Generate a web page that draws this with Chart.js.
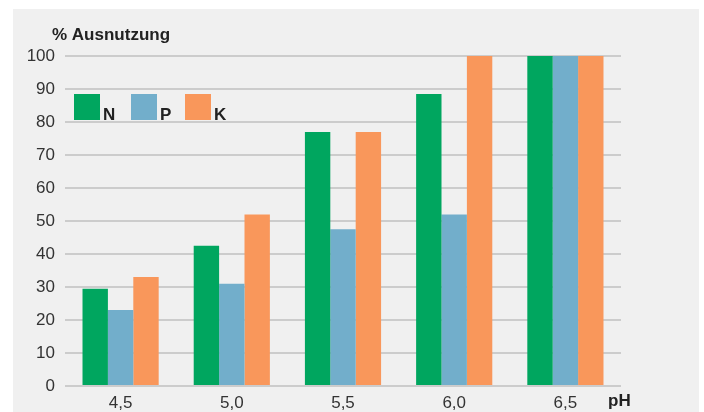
<!DOCTYPE html>
<html>
<head>
<meta charset="utf-8">
<script src="https://cdn.jsdelivr.net/npm/chart.js@4/dist/chart.umd.min.js"></script>
<style>
  html, body { margin: 0; padding: 0; background: #ffffff; overflow: hidden; }
  .panel {
    position: absolute;
    left: 13px;
    top: 9px;
    width: 686px;
    height: 403px;
    background: #f0f0f0;
  }
</style>
</head>
<body>
<div class="panel"><canvas id="myChart"></canvas></div>
<script>
const phLabels = ["4,5", "5,0", "5,5", "6,0", "6,5"]
const nValues = [29.5, 42.5, 77, 88.5, 100]
const pValues = [23, 31, 47.5, 52, 100]
const kValues = [33, 52, 77, 100, 100]
const yTicks = [0, 10, 20, 30, 40, 50, 60, 70, 80, 90, 100]

const fontFamily = "'Liberation Sans', Arial, sans-serif"

// titel, ph-label und legende von hand zeichnen
const extraText = {
  id: "extraText",
  afterDraw(chart) {
    const ctx = chart.ctx
    const area = chart.chartArea
    ctx.save()
    ctx.fillStyle = "#222222"
    ctx.font = "bold 17px " + fontFamily
    ctx.textBaseline = "alphabetic"
    ctx.textAlign = "left"
    ctx.fillText("% Ausnutzung", area.left - 13, area.top - 16)
    ctx.fillText("pH", area.right - 13, area.bottom + 20)

    // legende
    let x = area.left + 9
    const top = area.top + 38
    chart.data.datasets.forEach((ds) => {
      ctx.fillStyle = ds.backgroundColor
      ctx.fillRect(x, top, 26, 26)
      ctx.fillStyle = "#222222"
      ctx.fillText(ds.label, x + 29, top + 26)
      x += ds.label === "N" ? 57 : 54
    })
    ctx.restore()
  },
}

const ctx = document.getElementById("myChart").getContext("2d")
const myChart = new Chart(ctx, {
  type: "bar",
  data: {
    labels: phLabels,
    datasets: [
      { label: "N", data: nValues, backgroundColor: "#00a65f" },
      { label: "P", data: pValues, backgroundColor: "#72aecb" },
      { label: "K", data: kValues, backgroundColor: "#f9975b" },
    ],
  },
  options: {
    responsive: true,
    maintainAspectRatio: false,
    animation: false,
    layout: {
      padding: { left: 0, right: 78, top: 47, bottom: 0 },
    },
    datasets: {
      bar: {
        categoryPercentage: 0.685,
        barPercentage: 1,
      },
    },
    scales: {
      x: {
        grid: { display: false, drawTicks: false },
        border: { display: false },
        ticks: {
          color: "#333333",
          font: { family: fontFamily, size: 17 },
          padding: 7,
        },
        afterFit: (scale) => {
          scale.height = 26
        },
      },
      y: {
        min: 0,
        max: 100,
        afterBuildTicks: (scale) => {
          scale.ticks = yTicks.map((v) => ({ value: v }))
        },
        grid: {
          color: "#cccccc",
          lineWidth: 2,
          drawTicks: false,
        },
        border: { display: false },
        ticks: {
          color: "#333333",
          font: { family: fontFamily, size: 17 },
          padding: 10,
        },
        afterFit: (scale) => {
          scale.width = 52
        },
      },
    },
    plugins: {
      legend: { display: false },
      tooltip: { enabled: false },
    },
  },
  plugins: [extraText],
})
</script>
</body>
</html>
